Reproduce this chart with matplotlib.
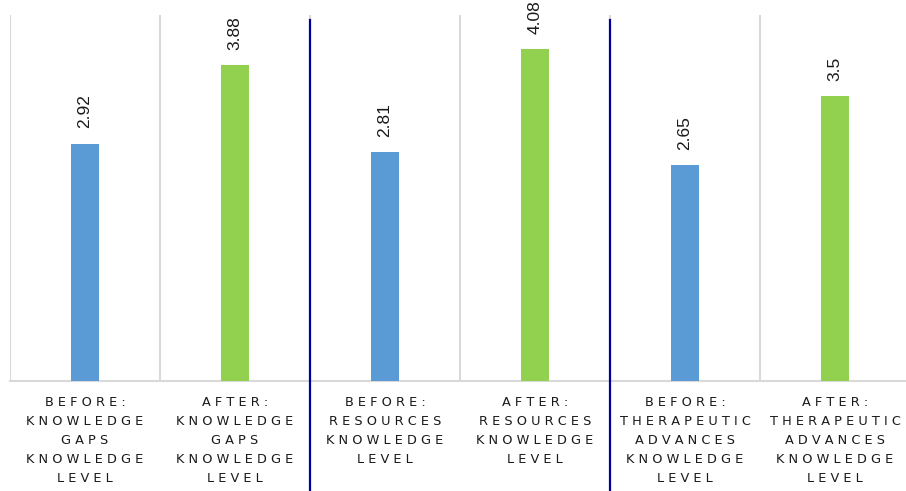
import matplotlib
matplotlib.use("Agg")
import matplotlib.pyplot as plt
import matplotlib.transforms as mtransforms

categories = [
    ["BEFORE:", "KNOWLEDGE", "GAPS", "KNOWLEDGE", "LEVEL"],
    ["AFTER:", "KNOWLEDGE", "GAPS", "KNOWLEDGE", "LEVEL"],
    ["BEFORE:", "RESOURCES", "KNOWLEDGE", "LEVEL"],
    ["AFTER:", "RESOURCES", "KNOWLEDGE", "LEVEL"],
    ["BEFORE:", "THERAPEUTIC", "ADVANCES", "KNOWLEDGE", "LEVEL"],
    ["AFTER:", "THERAPEUTIC", "ADVANCES", "KNOWLEDGE", "LEVEL"],
]
values = [2.92, 3.88, 2.81, 4.08, 2.65, 3.5]
value_labels = ["2.92", "3.88", "2.81", "4.08", "2.65", "3.5"]
colors = ["#5B9BD5", "#92D050", "#5B9BD5", "#92D050", "#5B9BD5", "#92D050"]

W, H = 906, 491
fig = plt.figure(figsize=(W / 100, H / 100), dpi=100)
left_px, right_px, top_px, bottom_px = 10, 906, 15, 381
ax = fig.add_axes([left_px / W, (H - bottom_px) / H,
                   (right_px - left_px) / W, (bottom_px - top_px) / H])

x = list(range(len(values)))
ax.bar(x, values, width=0.19, color=colors, zorder=3)
ax.set_ylim(0, 4.5)
ax.set_xlim(-0.5, -0.5 + (right_px - left_px) / 150)

for s in ["top", "right", "left"]:
    ax.spines[s].set_visible(False)
ax.spines["bottom"].set_color("#D9D9D9")
ax.spines["bottom"].set_linewidth(1.5)
ax.set_yticks([])

# category separator gridlines
for gx in [-0.5, 0.5, 1.5, 2.5, 3.5, 4.5]:
    ax.axvline(gx, color="#D9D9D9", lw=1.5, zorder=1)

# dark blue group separators
trans = mtransforms.blended_transform_factory(ax.transData, ax.transAxes)
y_top = (bottom_px - 20) / (bottom_px - top_px)
y_bot = (bottom_px - H) / (bottom_px - top_px)
for gx in [1.5, 3.5]:
    ax.plot([gx, gx], [y_bot, y_top], color="#0000A0", lw=1.6,
            transform=trans, clip_on=False, zorder=4)

for xi, v, lab in zip(x, values, value_labels):
    ax.annotate(lab, (xi, v), xytext=(0, 11), textcoords="offset points",
                rotation=90, ha="center", va="bottom", fontsize=12.5,
                color="#1a1a1a", family="Liberation Sans", annotation_clip=False)

def spaced(s):
    return " ".join(list(s))

ax.set_xticks(x)
ax.set_xticklabels(["\n".join(spaced(w) for w in c) for c in categories],
                   fontsize=9.3, color="#1a1a1a", linespacing=1.6,
                   family="DejaVu Sans")
ax.tick_params(axis="x", length=0, pad=11)

fig.savefig("out.png", dpi=100)
